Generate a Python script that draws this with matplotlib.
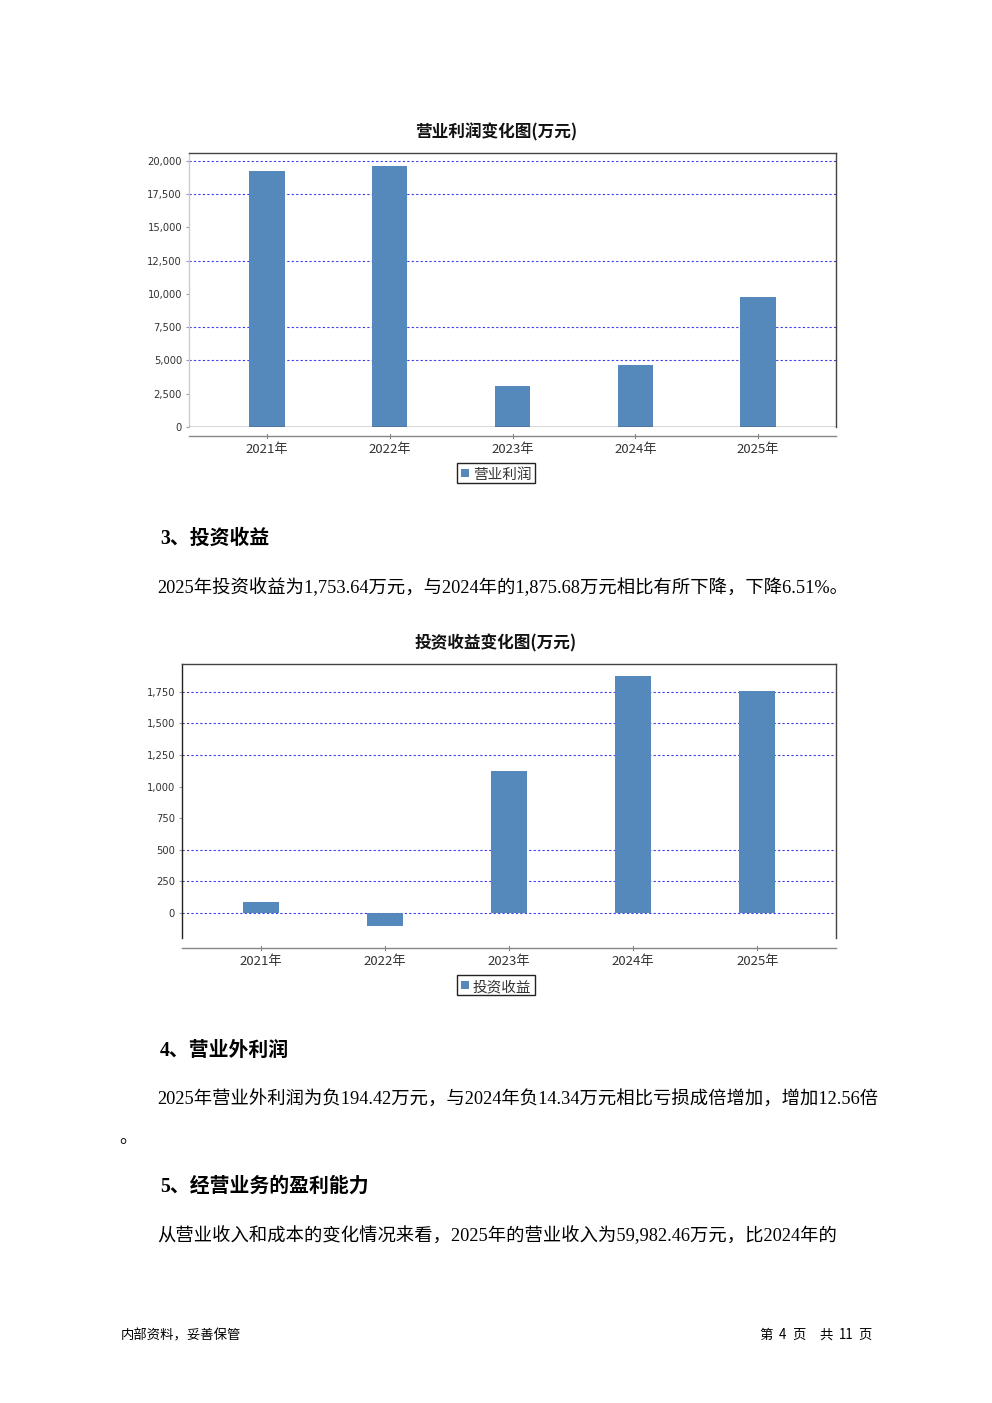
import matplotlib
matplotlib.use("Agg")
import matplotlib.pyplot as plt
from matplotlib.patches import Rectangle
from matplotlib.lines import Line2D

plt.rcParams['font.family'] = ['Noto Sans CJK SC', 'DejaVu Sans']

years = ["2021年", "2022年", "2023年", "2024年", "2025年"]
op_profit = [19250, 19620, 3080, 4660, 9780]
inv_income = [87, -103, 1124, 1875.68, 1753.64]

op_ticks = [0, 2500, 5000, 7500, 10000, 12500, 15000, 17500, 20000]
op_grid = [5000, 7500, 12500, 17500, 20000]
inv_ticks = [0, 250, 500, 750, 1000, 1250, 1500, 1750]
inv_grid = [0, 250, 500, 1250, 1500, 1750]

BAR = '#5589bc'
GRID = '#3b3bf0'
W, H = 992, 1403
TOFF = 2  # vertical text offset (px)
fig = plt.figure(figsize=(W / 100, H / 100), dpi=100)
fig.patch.set_facecolor('white')


def fx(px):
    return px / W


def fy(py):
    return 1 - py / H


def ty(py):
    return fy(py + TOFF)


def chart(left, right, top, bottom, axis_y, values, ticks, grid, ylim,
          title, title_y, legend_label, legend_y, left_dark):
    ax = fig.add_axes([fx(left), fy(bottom), fx(right) - fx(left), fy(top) - fy(bottom)])
    x = list(range(len(values)))
    for g in grid:
        ax.axhline(g, color=GRID, lw=0.8, ls=(0, (2, 2)), zorder=1)
    ax.bar(x, values, width=0.29, color=BAR, zorder=2)
    if not left_dark:
        ax.axhline(0, color='#333333', lw=1.0, zorder=3)
    ax.set_xlim(-0.634, len(values) - 1 + 0.634)
    ax.set_ylim(*ylim)
    ax.set_yticks(ticks)
    ax.set_yticklabels([f"{t:,}" for t in ticks], fontsize=7.2, color='#333333',
                       family=['DejaVu Sans'])
    ax.tick_params(axis='y', length=2, color='#999999', pad=3)
    ax.set_xticks([])
    for s in ['top', 'right']:
        ax.spines[s].set_color('#444444')
        ax.spines[s].set_linewidth(1.0)
    ax.spines['left'].set_color('#222222' if left_dark else '#cccccc')
    ax.spines['left'].set_linewidth(1.0)
    ax.spines['bottom'].set_visible(False)
    # offset category axis
    fig.add_artist(Line2D([fx(left), fx(right)], [fy(axis_y), fy(axis_y)],
                          color='#888888', lw=1.0))
    for xi, lab in zip(x, years):
        xpix = ax.transData.transform((xi, 0))[0]
        fig.add_artist(Line2D([xpix / W, xpix / W], [fy(axis_y - 2), fy(axis_y + 2)],
                              color='#888888', lw=0.8))
        fig.text(xpix / W, ty(axis_y + 12), lab, ha='center', va='center',
                 fontsize=9.5, color='#333333')
    fig.text(0.5, ty(title_y), title, ha='center', va='center', fontsize=12,
             fontweight='bold', color='#111111')
    # legend box
    lx0, lx1 = 457, 535
    fig.add_artist(Rectangle((fx(lx0), fy(legend_y + 10)), fx(lx1) - fx(lx0),
                             fy(legend_y - 10) - fy(legend_y + 10),
                             facecolor='white', edgecolor='#222222', lw=1.0))
    fig.add_artist(Rectangle((fx(461), fy(legend_y + 4)), fx(8), 8 / H,
                             facecolor=BAR, edgecolor='none'))
    fig.text(fx(473), ty(legend_y), legend_label, ha='left', va='center',
             fontsize=10.5, color='#333333')
    return ax


chart(189, 836, 153, 427, 436, op_profit, op_ticks, op_grid, (0, 20600),
      "营业利润变化图(万元)", 130, "营业利润", 473, False)
chart(182, 836, 664, 938, 948, inv_income, inv_ticks, inv_grid, (-198, 1971),
      "投资收益变化图(万元)", 641, "投资收益", 985, True)

body = ['Liberation Serif', 'Noto Sans CJK SC']
head = ['Liberation Serif', 'Noto Sans CJK SC']
foot = ['Noto Sans CJK SC', 'DejaVu Sans']
BFS = 13.2
HFS = 14.3

fig.text(fx(160), ty(537), "3、投资收益", ha='left', va='center', fontsize=HFS,
         fontweight='bold', family=head)
fig.text(fx(157), ty(586),
         "2025年投资收益为1,753.64万元，与2024年的1,875.68万元相比有所下降，下降6.51%。",
         ha='left', va='center', fontsize=BFS, family=body)
fig.text(fx(160), ty(1049), "4、营业外利润", ha='left', va='center', fontsize=HFS,
         fontweight='bold', family=head)
fig.text(fx(157), ty(1098),
         "2025年营业外利润为负194.42万元，与2024年负14.34万元相比亏损成倍增加，增加12.56倍",
         ha='left', va='center', fontsize=BFS, family=body)
fig.text(fx(119), ty(1136), "。", ha='left', va='center', fontsize=BFS, family=body)
fig.text(fx(160), ty(1185), "5、经营业务的盈利能力", ha='left', va='center', fontsize=HFS,
         fontweight='bold', family=head)
fig.text(fx(157), ty(1234),
         "从营业收入和成本的变化情况来看，2025年的营业收入为59,982.46万元，比2024年的",
         ha='left', va='center', fontsize=BFS, family=body)

fig.text(fx(121), ty(1333), "内部资料，妥善保管", ha='left', va='center', fontsize=9.6,
         family=foot)
for txt, cx in [("第", 766), ("4", 782), ("页", 799), ("共", 826), ("11", 846), ("页", 865)]:
    fig.text(fx(cx), ty(1333), txt, ha='center', va='center', fontsize=9.6, family=foot)

fig.savefig("out.png", dpi=100, facecolor='white')
